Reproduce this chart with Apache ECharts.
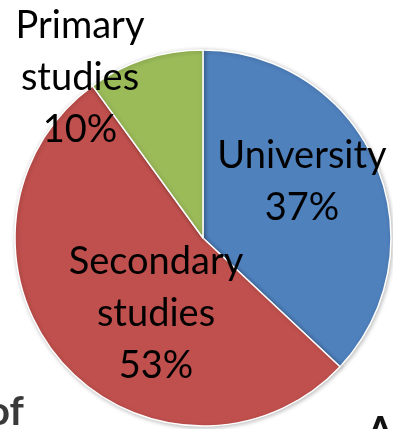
<!DOCTYPE html>
<html>
<head>
<meta charset="utf-8">
<script src="https://cdn.jsdelivr.net/npm/echarts@6/dist/echarts.min.js"></script>
<style>
  html, body { margin: 0; padding: 0; background: #ffffff; }
  #chart { width: 393px; height: 429px; }
</style>
</head>
<body>
<div id="chart"></div>
<script>
// Share of education level
const categories = ['University', 'Secondary studies', 'Primary studies'];
const shares = [37, 53, 10];
const sliceColors = ['#4F81BD', '#C0504D', '#9BBB59'];

// Where each slice label sits (label block centre, px)
const labelSpots = [
  { x: 302, y: 182 },
  { x: 156, y: 314 },
  { x: 80, y: 78 }
];

const chart = echarts.init(document.getElementById('chart'), null, { renderer: 'canvas' });

chart.setOption({
  animation: false,
  backgroundColor: '#ffffff',
  graphic: [
    {
      type: 'text',
      left: -13,
      top: 392,
      style: {
        text: 'of',
        font: 'bold 40px Lato',
        fill: '#3a3a3a'
      }
    },
    {
      type: 'text',
      left: 367,
      top: 413,
      style: {
        text: 'A',
        font: 'bold 38px Lato',
        fill: '#111111'
      }
    }
  ],
  series: [{
    type: 'pie',
    center: [203, 238],
    radius: [0, 188],
    startAngle: 90,
    clockwise: true,
    silent: true,
    itemStyle: {
      borderColor: '#ffffff',
      borderWidth: 1.5,
      shadowBlur: 4,
      shadowColor: 'rgba(0,0,0,0.25)',
      shadowOffsetX: 1,
      shadowOffsetY: 1
    },
    label: {
      show: true,
      position: 'inside',
      color: '#000000',
      fontFamily: 'Lato',
      fontSize: 38,
      lineHeight: 52,
      align: 'center',
      formatter: p => p.name.replace(' ', '\n') + '\n' + p.value + '%'
    },
    labelLine: { show: false },
    labelLayout: p => ({
      x: labelSpots[p.dataIndex].x,
      y: labelSpots[p.dataIndex].y,
      align: 'center',
      verticalAlign: 'middle'
    }),
    data: categories.map((name, i) => ({
      name: name,
      value: shares[i],
      itemStyle: { color: sliceColors[i] }
    }))
  }]
});
</script>
</body>
</html>
